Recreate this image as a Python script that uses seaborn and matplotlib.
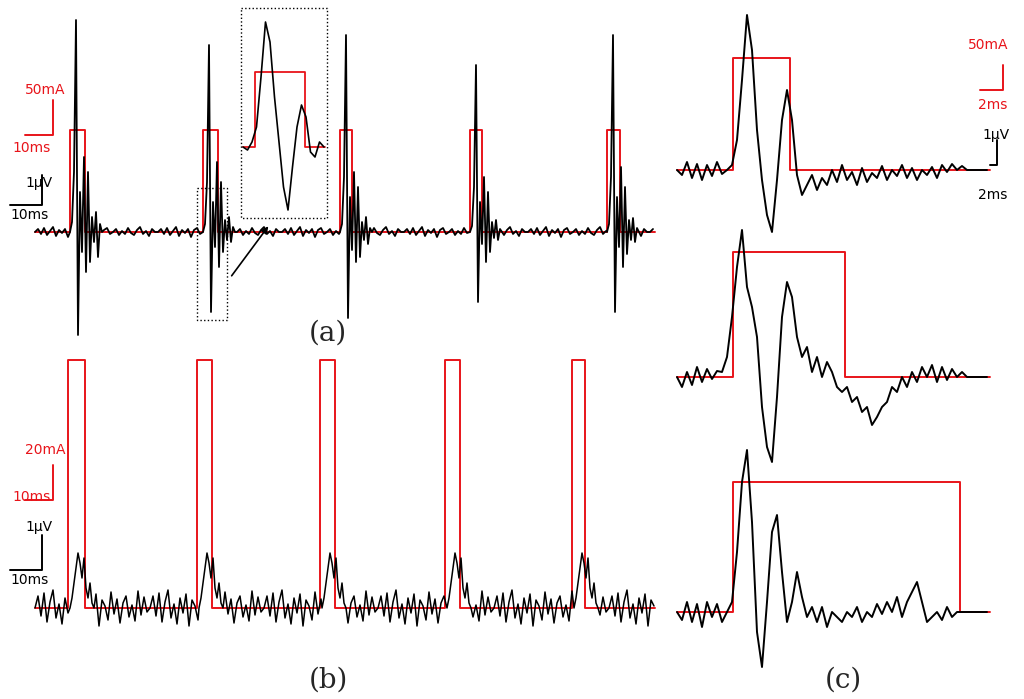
import numpy as np
import pandas as pd
import matplotlib
matplotlib.use("Agg")
import matplotlib.pyplot as plt
import seaborn as sns

sns.set_style("white")

# ---------------- data (pixel-scale amplitudes) -------------
# noise (px, positive = up) for panel (a) baseline
noise_a = [0, 3, -2, 4, -3, 1, 5, -4, 2, -1, 3, -5, 2, 4, -2, 0, 3, -3, 1, -2, 4, -1, -3, 2, 5, -2, 1, -4, 3, 0]
# noise for panel (b) baseline (larger)
noise_b = [0, 12, -8, 15, -14, 6, 18, -10, 4, -16, 10, -5, 14, -18, 8, 2, -12, 16, -6, 9, -15, 5, 12, -9, 3, -13, 17, -7, 11, -4]
# stimulus onsets / offsets (px)
a_on = [70, 203, 340, 470, 607]
a_off = [85, 218, 352, 482, 620]
b_on = [68, 197, 320, 445, 572]
b_off = [85, 212, 335, 460, 585]
# spike shapes after onset (px offsets, step 2 px)
spike_a = [
    [0, 10, 60, 212, -103, 40, -20, 75, -40, 60, -30, 15, -10, 20, -25, 8, 0],
    [0, 8, 50, 187, -80, 30, -15, 70, -35, 50, -20, 12, -8, 15, -10, 5, 0],
    [0, 8, 55, 197, -86, 35, -18, 60, -30, 45, -25, 10, -8, 15, -12, 4, 0],
    [0, 6, 45, 167, -70, 30, -12, 55, -30, 40, -20, 10, -6, 12, -8, 3, 0],
    [0, 8, 55, 197, -80, 35, -15, 65, -35, 45, -22, 12, -8, 14, -10, 4, 0],
]
bump_b = [0, 10, 25, 40, 55, 45, 30, 50, 20, 10, 25, 5, 0]
# panel (c) traces (step 5 px), positive = up
c1_vals = [0, -5, 8, -8, 6, -10, 5, -6, 8, -4, 0, 5, 30, 90, 155, 120, 40, -10, -45, -62, -10, 50, 80,
           50, -5, -25, -15, -5, -20, -8, -15, 0, -12, 5, -10, -2, -15, 2, -12, -3, -8, 4, -10, 0, -6,
           5, -8, 2, -10, 0, -5, 3, -8, 5, -2, 6, 0, 4, 0, 0, 0, 0, 0]
c2_vals = [0, -10, 5, -8, 10, -5, 8, -2, 6, 5, 20, 60, 110, 147, 90, 70, 40, -30, -70, -85, -20, 60, 95,
           80, 40, 20, 30, 5, 20, 0, 15, 5, -10, -15, -10, -25, -20, -35, -30, -48, -40, -30, -25, -10,
           -15, 0, -10, 5, -5, 10, 0, 12, -5, 10, -3, 8, 0, 5, 0, 0, 0, 0, 0]
c3_vals = [0, -8, 10, -10, 8, -15, 10, -5, 8, -10, 0, 10, 60, 130, 162, 90, -20, -55, 10, 80, 97, 40,
           -10, 10, 40, 15, -5, 5, -10, 5, -15, 0, -5, -10, 0, -5, 5, -10, 0, -5, 8, -2, 10, 0, 15,
           -5, 10, 20, 30, 10, -10, -5, 0, -8, 5, -5, 0, 0, 0, 0, 0, 0, 0]
inset_vals = [0, -3, 5, 20, 70, 125, 105, 50, 5, -40, -63, -20, 20, 42, 30, -5, -10, 5, 0]

RED = "#e8141a"

fig = plt.figure(figsize=(10.24, 6.99), dpi=100)
ax = fig.add_axes([0, 0, 1, 1])
ax.set_xlim(0, 1024)
ax.set_ylim(699, 0)
ax.axis("off")


def line(xs, ys, color, lw=1.3, ls="-"):
    sns.lineplot(x=np.asarray(xs, float), y=np.asarray(ys, float), sort=False, estimator=None,
                 color=color, lw=lw, ls=ls, ax=ax)


def build_trace(x0, x1, base, noise, step, events):
    xs, ys = [], []
    x = x0
    i = 0
    ev = sorted(events, key=lambda e: e[0])
    while x < x1:
        hit = None
        for e in ev:
            if e[0] <= x < e[0] + step * 0 + 1e-9 + 0.5:
                hit = e
        if ev and x >= ev[0][0]:
            onset, shape, sstep = ev.pop(0)
            for k, v in enumerate(shape):
                xs.append(onset + k * sstep)
                ys.append(base - v)
            x = onset + len(shape) * sstep
            continue
        xs.append(x)
        ys.append(base - noise[i % len(noise)])
        i += 1
        x += step
    return xs, ys


def pulse(x0, x1, on, off, base, top):
    xs, ys = [x0], [base]
    for a, b in zip(on, off):
        xs += [a, a, b, b]
        ys += [base, top, top, base]
    xs.append(x1)
    ys.append(base)
    line(xs, ys, RED, 1.4)


# ---- panel (a)
pulse(35, 655, a_on, a_off, 232, 130)
xs, ys = build_trace(35, 655, 232, noise_a, 3, [(o, s, 2) for o, s in zip(a_on, spike_a)])
line(xs, ys, "black", 1.3)
# ---- panel (b)
pulse(35, 655, b_on, b_off, 608, 360)
xs, ys = build_trace(35, 655, 608, noise_b, 3, [(o + 2, bump_b, 2) for o in b_on])
line(xs, ys, "black", 1.1)

# ---- panel (c)
for base, top, off, vals in [(170, 58, 790, c1_vals), (377, 252, 845, c2_vals), (612, 482, 960, c3_vals)]:
    pulse(677, 990, [733], [off], base, top)
    line([677 + 5 * k for k in range(len(vals))], [base - v for v in vals], "black", 1.4)

# ---- dashed boxes, inset, arrow
line([197, 227, 227, 197, 197], [188, 188, 320, 320, 188], "black", 1, ":")
line([241, 327, 327, 241, 241], [8, 8, 218, 218, 8], "black", 1, ":")
line([243, 255, 255, 305, 305, 325], [147, 147, 72, 72, 147, 147], RED, 1.3)
line([243 + 4.5 * k for k in range(len(inset_vals))], [147 - v for v in inset_vals], "black", 1.2)
ax.annotate("", xy=(270, 224), xytext=(230, 278),
            arrowprops=dict(arrowstyle="-|>", color="black", lw=1.2))

# ---- scale bars
def scalebar(x, y_top, y_bot, x_left, color, t1, t1pos, t2, t2pos, fs=10):
    line([x, x, x_left], [y_top, y_bot, y_bot], color, 1.4)
    ax.text(*t1pos, t1, color=color, fontsize=fs, ha="left", va="center")
    ax.text(*t2pos, t2, color=color, fontsize=fs, ha="left", va="center")

scalebar(53, 100, 135, 25, RED, "50mA", (25, 90), "10ms", (12, 148))
scalebar(42, 175, 205, 10, "black", "1μV", (25, 183), "10ms", (10, 215))
scalebar(53, 465, 500, 25, RED, "20mA", (25, 450), "10ms", (12, 497))
scalebar(42, 535, 570, 10, "black", "1μV", (25, 527), "10ms", (10, 580))
scalebar(1003, 65, 90, 980, RED, "50mA", (968, 45), "2ms", (978, 105))
scalebar(997, 140, 165, 990, "black", "1μV", (982, 135), "2ms", (978, 195))

for t, x, y in [("(a)", 328, 333), ("(b)", 328, 680), ("(c)", 843, 680)]:
    ax.text(x, y, t, fontsize=20, family="DejaVu Serif", ha="center", va="center")

fig.savefig("out.png", dpi=100)
